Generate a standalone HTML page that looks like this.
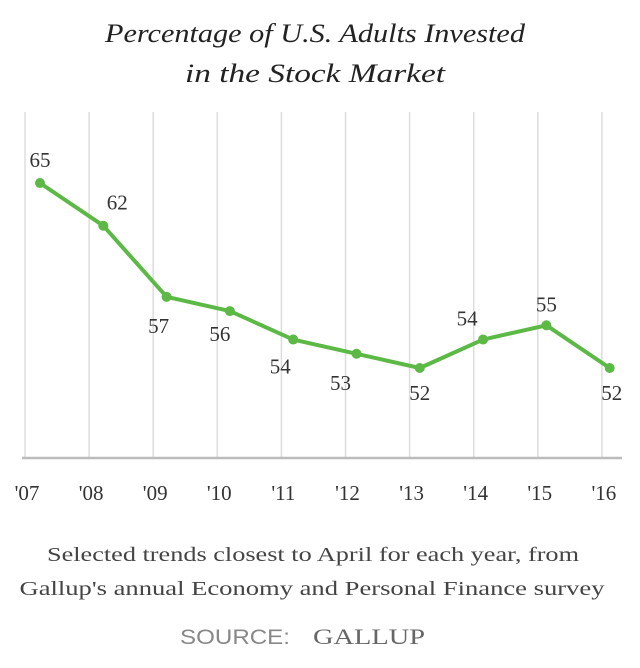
<!DOCTYPE html>
<html><head><meta charset="utf-8"><style>
body{margin:0;background:#fff;width:640px;height:663px;overflow:hidden;font-family:"Liberation Serif",serif;}
</style></head><body>
<svg width="640" height="663" xmlns="http://www.w3.org/2000/svg">
<g font-style="italic" font-size="26" fill="#222" text-anchor="middle">
<text x="315" y="42" textLength="420" lengthAdjust="spacingAndGlyphs">Percentage of U.S. Adults Invested</text>
<text x="315" y="82" textLength="260" lengthAdjust="spacingAndGlyphs">in the Stock Market</text>
</g>
<g id="grid"></g>
<line x1="22" x2="622" y1="458" y2="458" stroke="#bbb" stroke-width="2.5"/>
<g id="xlab" font-size="21" fill="#333" text-anchor="middle"></g>
<g id="series"></g>
<g id="vlab" font-size="21" fill="#333" text-anchor="middle"></g>
<g font-size="20" fill="#444" text-anchor="middle">
<text x="313" y="561" textLength="532" lengthAdjust="spacingAndGlyphs">Selected trends closest to April for each year, from</text>
<text x="312" y="595" textLength="585" lengthAdjust="spacingAndGlyphs">Gallup's annual Economy and Personal Finance survey</text>
</g>
<text x="235" y="644" font-family="'Liberation Sans',sans-serif" font-size="21" fill="#888" text-anchor="middle" textLength="110" lengthAdjust="spacingAndGlyphs">SOURCE:</text>
<text x="369" y="644" font-size="22" fill="#666" text-anchor="middle" textLength="112" lengthAdjust="spacingAndGlyphs">GALLUP</text>
</svg>
<script>
const years=["'07","'08","'09","'10","'11","'12","'13","'14","'15","'16"];
const values=[65,62,57,56,54,53,52,54,55,52];
const labelPos=[[0,-16],[14,-16],[-8,36],[-10,30],[-13,34],[-16,36],[0,32],[-16,-14],[0,-14],[2,32]];
const NS="http://www.w3.org/2000/svg";
const gridX=i=>25+i*64.1;
const ptX=i=>40+i*63.3;
const y=v=>368-(v-52)*14.23;
const grid=document.getElementById('grid'),xl=document.getElementById('xlab'),se=document.getElementById('series'),vl=document.getElementById('vlab');
years.forEach((yr,i)=>{
 const l=document.createElementNS(NS,'line');
 l.setAttribute('x1',gridX(i));l.setAttribute('x2',gridX(i));l.setAttribute('y1',112);l.setAttribute('y2',457);
 l.setAttribute('stroke','#ddd');l.setAttribute('stroke-width','1.5');
 
 
 grid.appendChild(l);
 const t=document.createElementNS(NS,'text');
 t.setAttribute('x',gridX(i)+2);t.setAttribute('y',500);t.textContent=yr;
 
 
 xl.appendChild(t);
});
const pl=document.createElementNS(NS,'polyline');
pl.setAttribute('points',values.map((v,i)=>ptX(i)+','+y(v)).join(' '));
pl.setAttribute('fill','none');pl.setAttribute('stroke','#5cb946');pl.setAttribute('stroke-width','4');pl.setAttribute('stroke-linejoin','round');


se.appendChild(pl);
values.forEach((v,i)=>{
 const c=document.createElementNS(NS,'circle');
 c.setAttribute('cx',ptX(i));c.setAttribute('cy',y(v));c.setAttribute('r',5);c.setAttribute('fill','#5cb946');
 
 
 se.appendChild(c);
 const t=document.createElementNS(NS,'text');
 t.setAttribute('x',ptX(i)+labelPos[i][0]);t.setAttribute('y',y(v)+labelPos[i][1]);t.textContent=v;
 
 
 vl.appendChild(t);
});
</script>
</body></html>
